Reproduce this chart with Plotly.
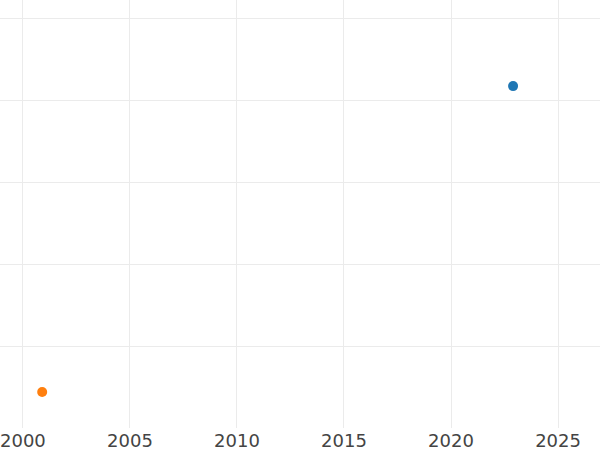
import plotly.graph_objects as go

series_names = ["A", "B"]
years_a = [2022.9]
values_a = [4.17]
years_b = [2000.9]
values_b = [0.44]

fig = go.Figure()
fig.add_trace(go.Scatter(x=years_a, y=values_a, mode="markers", name=series_names[0],
                         marker=dict(color="#1f77b4", size=10)))
fig.add_trace(go.Scatter(x=years_b, y=values_b, mode="markers", name=series_names[1],
                         marker=dict(color="#ff7f0e", size=10)))

fig.update_layout(
    width=600, height=450,
    margin=dict(l=0, r=0, t=0, b=22, pad=0),
    paper_bgcolor="white", plot_bgcolor="white",
    showlegend=False,
    font=dict(family="DejaVu Sans", size=18, color="#444444"),
)
fig.update_xaxes(range=[1998.93, 2026.96], dtick=5, tick0=2000, showgrid=True,
                 gridcolor="#ebebeb", gridwidth=1, zeroline=False, showline=False,
                 ticks="", ticklen=0, ticklabeloverflow="allow",
                 tickfont=dict(family="DejaVu Sans", size=18))
fig.update_yaxes(range=[0, 5.22], dtick=1, tick0=0, showgrid=True,
                 gridcolor="#ebebeb", gridwidth=1, zeroline=False, showline=False,
                 showticklabels=False)

fig.write_html("out.html", config={"displayModeBar": False},
               post_script="document.body.style.margin='0';document.body.style.padding='0';")
